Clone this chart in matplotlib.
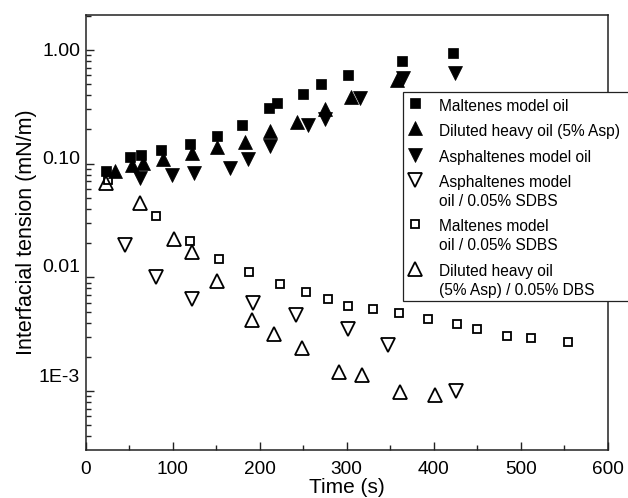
import matplotlib
matplotlib.use("Agg")
import matplotlib.pyplot as plt
import numpy as np
from matplotlib.ticker import MultipleLocator, LogLocator, NullFormatter, FixedLocator
from matplotlib.patches import Rectangle
from matplotlib.lines import Line2D
import matplotlib.transforms as mtransforms

plt.rcParams['font.family'] = ['Liberation Sans', 'DejaVu Sans']

# ---------------- data ----------------
malt_t = [24, 51, 64, 87, 120, 151, 180, 211, 220, 250, 270, 302, 363, 422]
malt_y = [0.087, 0.115, 0.119, 0.132, 0.149, 0.175, 0.219, 0.307, 0.344, 0.41, 0.50, 0.60, 0.805, 0.935]

dil_t = [34, 53, 66, 89, 122, 151, 183, 212, 243, 275, 305, 358]
dil_y = [0.087, 0.097, 0.101, 0.111, 0.125, 0.141, 0.156, 0.194, 0.234, 0.303, 0.386, 0.544]

asph_t = [63, 99, 125, 166, 187, 212, 256, 275, 315, 365, 424]
asph_y = [0.0743, 0.0794, 0.0832, 0.091, 0.111, 0.143, 0.219, 0.247, 0.378, 0.563, 0.624]

asph_sdbs_t = [45, 81, 122, 192, 242, 301, 347, 425]
asph_sdbs_y = [0.0192, 0.0101, 0.00639, 0.00596, 0.00465, 0.0035, 0.00253, 0.0010]

malt_sdbs_t = [26, 81, 120, 153, 188, 223, 253, 279, 301, 330, 360, 393, 427, 450, 484, 512, 554]
malt_sdbs_y = [0.0718, 0.0346, 0.0208, 0.01456, 0.01118, 0.0087, 0.00736, 0.00643, 0.00558,
               0.00532, 0.00481, 0.00431, 0.00385, 0.00348, 0.00305, 0.0029, 0.0027]

dil_dbs_t = [23.5, 63, 102, 122, 151, 191, 216, 249, 291, 317, 361, 401]
dil_dbs_y = [0.0679, 0.0453, 0.0216, 0.01677, 0.0093, 0.0042, 0.0032, 0.00237, 0.00147,
             0.00138, 0.00098, 0.00092]

series_labels = ["Maltenes model oil",
                 "Diluted heavy oil (5% Asp)",
                 "Asphaltenes model oil",
                 "Asphaltenes model\noil / 0.05% SDBS",
                 "Maltenes model\noil / 0.05% SDBS",
                 "Diluted heavy oil\n(5% Asp) / 0.05% DBS"]

xtick_vals = [0, 100, 200, 300, 400, 500, 600]
ytick_vals = [1.0, 0.1, 0.01, 0.001]
ytick_labels = ["1.00", "0.10", "0.01", "1E-3"]

# ---------------- styles ----------------
styles = [
    dict(marker='s', ms=7.3, mfc='black', mec='black', mew=0.5),
    dict(marker='^', ms=10.3, mfc='black', mec='black', mew=0.5),
    dict(marker='v', ms=10.3, mfc='black', mec='black', mew=0.5),
    dict(marker='v', ms=10.0, mfc='none', mec='black', mew=1.3),
    dict(marker='s', ms=6.2, mfc='none', mec='black', mew=1.3),
    dict(marker='^', ms=10.0, mfc='none', mec='black', mew=1.3),
]

W, H = 628, 498
fig = plt.figure(figsize=(W / 100, H / 100), dpi=100)
fig.patch.set_facecolor('white')

L, R, T, B = 85.5, 608, 15, 450
ax = fig.add_axes([L / W, 1 - B / H, (R - L) / W, (B - T) / H])

data = [(malt_t, malt_y), (dil_t, dil_y), (asph_t, asph_y),
        (asph_sdbs_t, asph_sdbs_y), (malt_sdbs_t, malt_sdbs_y), (dil_dbs_t, dil_dbs_y)]
for (t, y), st in zip(data, styles):
    ax.plot(t, y, linestyle='none', clip_on=False, **st)

ax.set_yscale('log')
ax.set_xlim(0, 600)
ax.set_ylim(3.03e-4, 2.03)

ax.xaxis.set_major_locator(FixedLocator(xtick_vals))
ax.xaxis.set_minor_locator(MultipleLocator(50))
ax.yaxis.set_major_locator(FixedLocator(ytick_vals))
ax.yaxis.set_minor_locator(LogLocator(base=10, subs=np.arange(2, 10)))
ax.yaxis.set_major_formatter(NullFormatter())
ax.yaxis.set_minor_formatter(NullFormatter())

ax.tick_params(axis='both', which='both', direction='in', top=False, right=False,
               width=1.0, colors='#222222')
ax.tick_params(axis='both', which='major', length=6)
ax.tick_params(axis='both', which='minor', length=3.6)
ax.tick_params(axis='x', labelsize=13.7, pad=8, labelcolor='black')
ax.tick_params(axis='y', labelleft=False)

for sp in ax.spines.values():
    sp.set_linewidth(1.1)
    sp.set_color('#222222')

# y tick labels (drawn as text so their slight offsets can follow the reference)
yoffs = [0, 6, 12, 16]
for v, s, off in zip(ytick_vals, ytick_labels, yoffs):
    tr = ax.get_yaxis_transform() + mtransforms.ScaledTranslation(-5.5 / 100, off / 100, fig.dpi_scale_trans)
    ax.text(0, v, s, transform=tr, ha='right', va='center_baseline', fontsize=14)

ax.set_xlabel("Time (s)", fontsize=15)
ax.xaxis.set_label_coords(0.5, -(478 - B) / (B - T))
ax.set_ylabel("Interfacial tension (mN/m)", fontsize=15.5)
ax.yaxis.set_label_coords(-(L - 27) / (R - L), (B - 232) / (B - T))
ax.yaxis.label.set_va('center')

# ---------------- legend (drawn manually) ----------------
def fx(x):
    return x / W

def fy(y):
    return 1 - y / H

box = Rectangle((fx(403), fy(301)), fx(660) - fx(403), fy(92) - fy(301),
                transform=fig.transFigure, facecolor='white', edgecolor='#222222',
                linewidth=0.9, zorder=10, clip_on=False)
fig.add_artist(box)

row_y = [105, 130, 156, 181.5, 225, 270]
line_gap = 18.5
for lab, st, y0 in zip(series_labels, styles, row_y):
    mk = Line2D([fx(415)], [fy(y0 - 1.5)], transform=fig.transFigure, linestyle='none',
                zorder=11, **st)
    fig.add_artist(mk)
    for k, line in enumerate(lab.split("\n")):
        fig.text(fx(439), fy(y0 + k * line_gap), line, ha='left', va='center_baseline',
                 fontsize=11.2, zorder=12)

fig.savefig("out.png", dpi=100)
